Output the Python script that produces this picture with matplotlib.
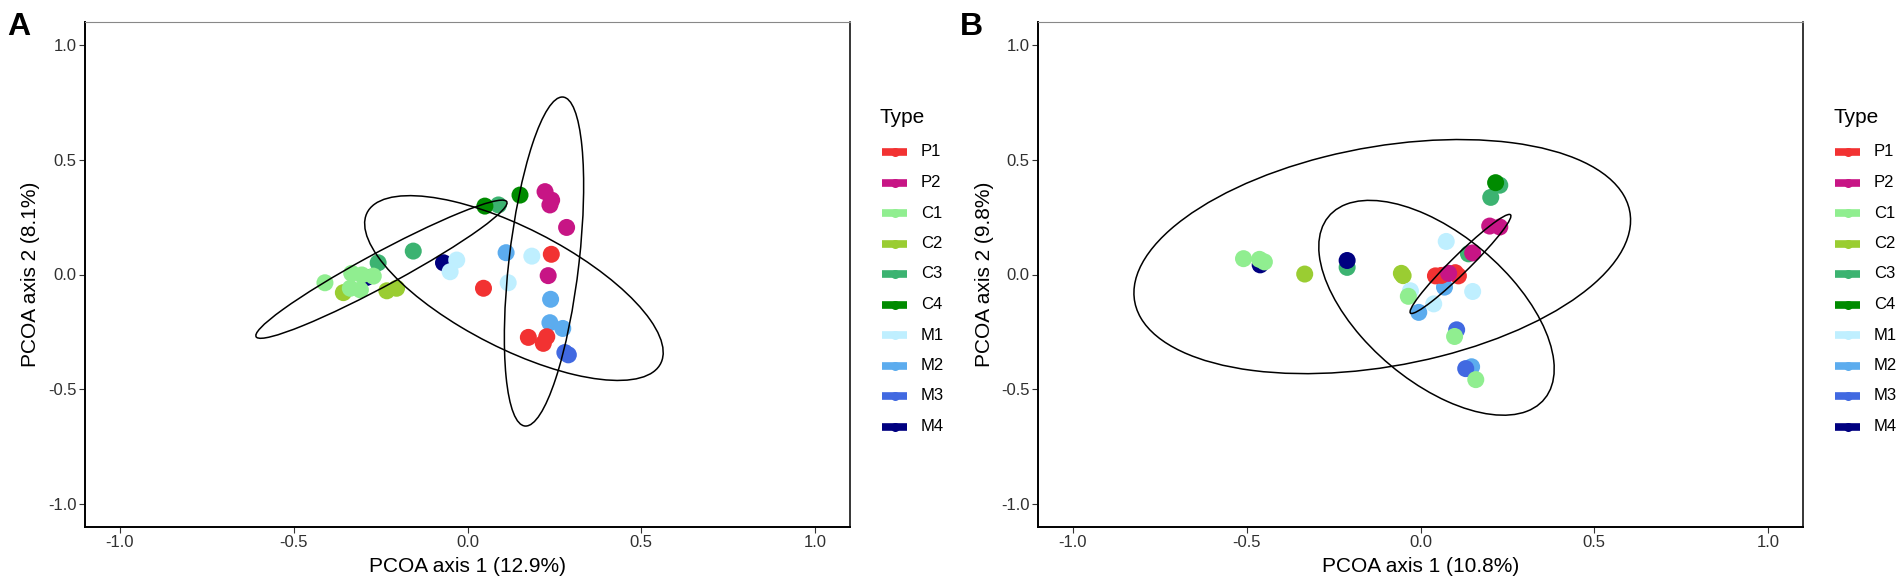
import numpy as np
import matplotlib
matplotlib.use("Agg")
import matplotlib.pyplot as plt
from matplotlib.patches import Ellipse
from matplotlib.lines import Line2D

plt.rcParams['font.family'] = ['Liberation Sans', 'DejaVu Sans']

W, H = 1904, 579

types = ["P1", "P2", "C1", "C2", "C3", "C4", "M1", "M2", "M3", "M4"]
colors = ["#F23232", "#C71585", "#90EE90", "#9ACD32", "#3CB371",
          "#008B00", "#BFEFFF", "#5CACEE", "#4169E1", "#000080"]
# drawing order (later = on top)
draw_order = ["C2", "C3", "C4", "M4", "M1", "M2", "M3", "C1", "P1", "P2"]

# ---- panel A points ----
a_pts = {
    "P1": [(0.046, -0.060), (0.241, 0.088), (0.175, -0.274), (0.218, -0.300), (0.228, -0.271)],
    "P2": [(0.223, 0.361), (0.242, 0.324), (0.237, 0.303), (0.285, 0.205), (0.232, -0.005)],
    "C1": [(-0.410, -0.036), (-0.333, 0.005), (-0.304, -0.002), (-0.271, -0.007),
           (-0.337, -0.060), (-0.308, -0.067)],
    "C2": [(-0.357, -0.079), (-0.232, -0.071), (-0.204, -0.060)],
    "C3": [(-0.257, 0.051), (-0.156, 0.102), (0.089, 0.303)],
    "C4": [(0.050, 0.298), (0.151, 0.346)],
    "M1": [(-0.031, 0.063), (-0.050, 0.012), (0.117, -0.036), (0.185, 0.080)],
    "M2": [(0.111, 0.095), (0.239, -0.108), (0.237, -0.210), (0.274, -0.235)],
    "M3": [(0.280, -0.340), (0.290, -0.350)],
    "M4": [(-0.290, -0.013), (-0.069, 0.051)],
}
# ellipses: centre x, centre y, sxx, sxy, syy
a_ell = [
    (-0.2475, 0.023, 0.1305, 0.1045, 0.0906),
    (0.1335, -0.059, 0.1843, -0.1205, 0.162),
    (0.220, 0.0565, 0.013, 0.0377, 0.5137),
]

# ---- panel B points ----
b_pts = {
    "P1": [(0.043, -0.006), (0.060, -0.004), (0.109, -0.006), (0.100, 0.008)],
    "P2": [(0.081, 0.005), (0.150, 0.094), (0.199, 0.211), (0.228, 0.207)],
    "C1": [(-0.509, 0.069), (-0.463, 0.066), (-0.449, 0.055), (-0.035, -0.095),
           (0.098, -0.270), (0.159, -0.458)],
    "C2": [(-0.333, 0.002), (-0.055, 0.005), (-0.050, -0.005)],
    "C3": [(-0.211, 0.031), (0.138, 0.090), (0.202, 0.336), (0.228, 0.389)],
    "C4": [(0.216, 0.400)],
    "M1": [(-0.029, -0.071), (0.038, -0.128), (0.074, 0.144), (0.150, -0.074)],
    "M2": [(-0.005, -0.165), (0.069, -0.055), (0.147, -0.402)],
    "M3": [(0.104, -0.241), (0.130, -0.410)],
    "M4": [(-0.461, 0.042), (-0.211, 0.061)],
}
b_ell = [
    (-0.110, 0.078, 0.510, 0.113, 0.260),
    (0.046, -0.145, 0.1146, -0.090, 0.219),
    (0.115, 0.046, 0.02104, 0.0303, 0.04657),
]

ticks = [-1.0, -0.5, 0.0, 0.5, 1.0]
panels = [
    ("A", a_pts, a_ell, "PCOA axis 1 (12.9%)", "PCOA axis 2 (8.1%)"),
    ("B", b_pts, b_ell, "PCOA axis 1 (10.8%)", "PCOA axis 2 (9.8%)"),
]

fig = plt.figure(figsize=(W / 100, H / 100), dpi=100)
col_of = dict(zip(types, colors))

for k, (tag, pts, ells, xlab, ylab) in enumerate(panels):
    off = 953 * k
    left, right, top, bottom = 85 + off, 850 + off, 22, 527
    ax = fig.add_axes([left / W, 1 - bottom / H, (right - left) / W, (bottom - top) / H])
    ax.set_xlim(-1.1, 1.1)
    ax.set_ylim(-1.1, 1.1)

    for t in draw_order:
        xy = np.array(pts[t])
        ax.scatter(xy[:, 0], xy[:, 1], s=150, color=col_of[t], edgecolors='none', zorder=3)

    for cx, cy, sxx, sxy, syy in ells:
        S = np.array([[sxx, sxy], [sxy, syy]])
        vals, vecs = np.linalg.eigh(S)
        ang = np.degrees(np.arctan2(vecs[1, 1], vecs[0, 1]))
        e = Ellipse((cx, cy), 2 * np.sqrt(vals[1]), 2 * np.sqrt(vals[0]), angle=ang,
                    fill=False, edgecolor='black', lw=1.1, zorder=4)
        ax.add_patch(e)

    ax.set_xticks(ticks)
    ax.set_yticks(ticks)
    ax.set_xticklabels([f"{v:.1f}" for v in ticks])
    ax.set_yticklabels([f"{v:.1f}" for v in ticks])
    ax.tick_params(direction='out', length=4, width=0.8, color='#333333',
                   labelsize=12, labelcolor='#303030', pad=2)
    for s in ['left', 'bottom']:
        ax.spines[s].set_linewidth(1.4)
        ax.spines[s].set_color('black')
    ax.spines['top'].set_linewidth(0.8)
    ax.spines['top'].set_color('#888888')
    ax.spines['right'].set_linewidth(1.1)
    ax.spines['right'].set_color('black')

    fig.text((left + right) / 2 / W, 1 - 567 / H, xlab, ha='center', va='center', fontsize=15)
    fig.text((31 + off) / W, 1 - 274 / H, ylab, ha='center', va='center', rotation=90, fontsize=15)
    fig.text((7 + off) / W, 1 - 35 / H, tag, ha='left', va='baseline', fontsize=23, fontweight='bold')

    # legend
    fig.text((880 + off) / W, 1 - 117 / H, "Type", ha='left', va='center', fontsize=15)
    for i, (t, c) in enumerate(zip(types, colors)):
        yy = 1 - (152 + 30.5 * i) / H
        fig.add_artist(Line2D([(882 + off) / W, (907 + off) / W], [yy, yy], color=c, lw=5.5,
                              solid_capstyle='butt', transform=fig.transFigure))
        fig.add_artist(Line2D([(894.5 + off) / W], [yy], color=c, marker='o', ms=6.5,
                              mec='none', transform=fig.transFigure))
        fig.text((921 + off) / W, yy, t, ha='left', va='center', fontsize=12)

fig.savefig("out.png", dpi=100)
